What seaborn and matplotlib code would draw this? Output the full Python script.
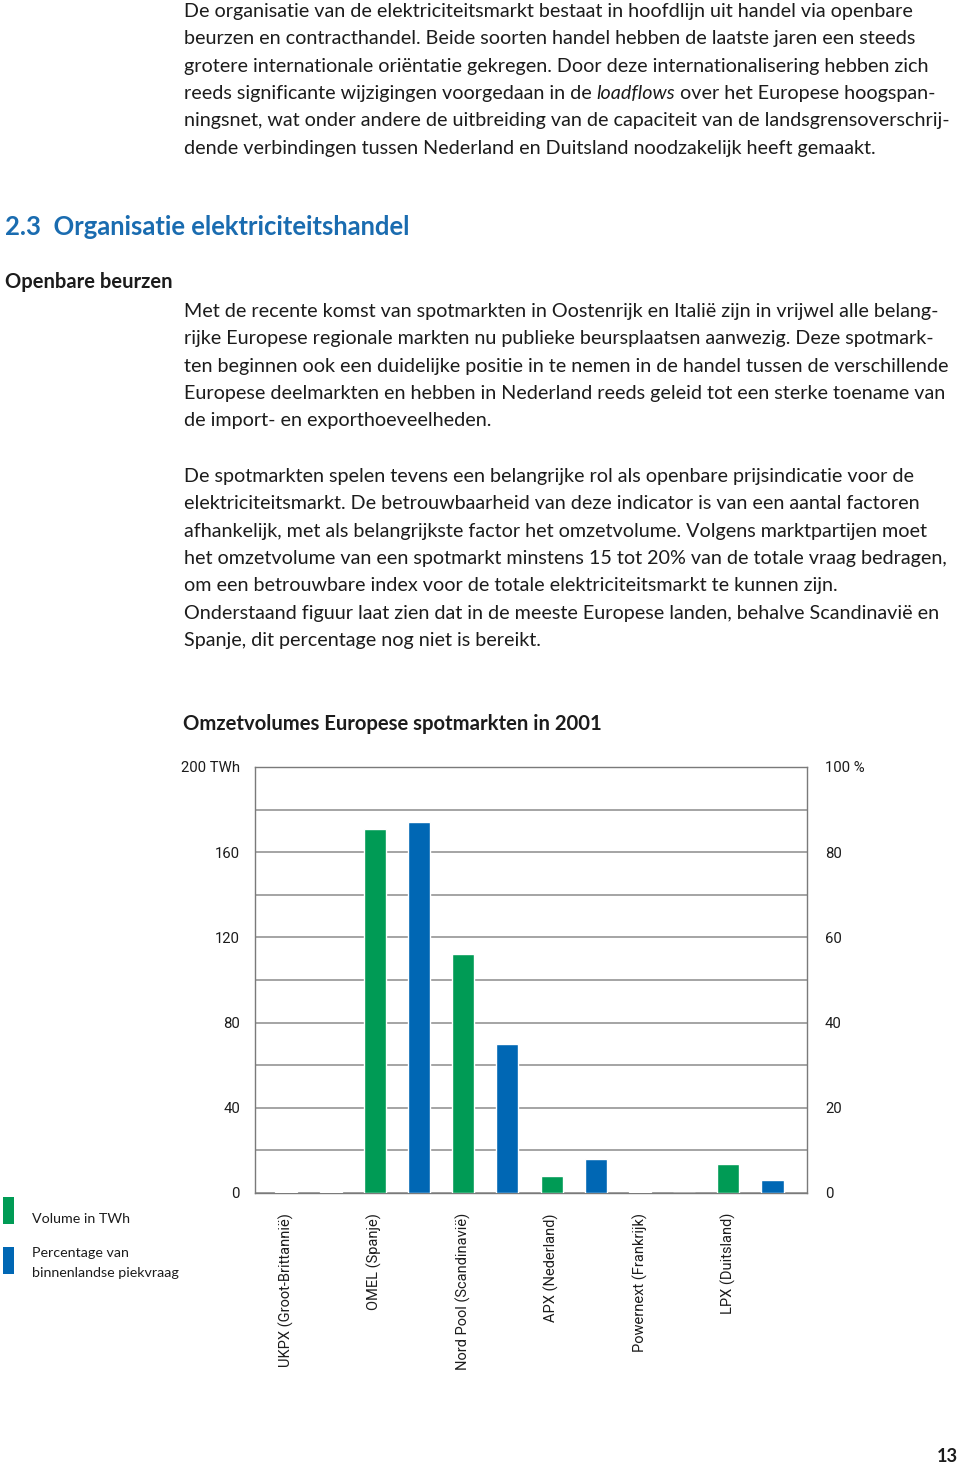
import matplotlib
matplotlib.use("Agg")
import matplotlib.pyplot as plt
from matplotlib.patches import Rectangle
import seaborn as sns
import pandas as pd

# ---------------- data ----------------
markets = ["UKPX (Groot-Brittannië)", "OMEL (Spanje)", "Nord Pool (Scandinavië)",
           "APX (Nederland)", "Powernext (Frankrijk)", "LPX (Duitsland)"]
volume_twh = [0.3, 171, 112, 8.1, 0.4, 13.8]
pct_peak = [0.15, 87, 35, 8.0, 0.1, 3.0]
series = ["Volume in TWh", "Percentage van\nbinnenlandse piekvraag"]
left_ticks = [0, 20, 40, 60, 80, 100, 120, 140, 160, 180, 200]
left_labels = ["0", "", "40", "", "80", "", "120", "", "160", "", "200 TWh"]
right_ticks = [0, 10, 20, 30, 40, 50, 60, 70, 80, 90, 100]
right_labels = ["0", "", "20", "", "40", "", "60", "", "80", "", "100 %"]

GREEN = "#009b55"
BLUE = "#0067b4"
HEAD_BLUE = "#1a6cb0"
TXT = "#1c1c1c"
GRID = "#8c8c8c"

sns.set_theme(style="white")
plt.rcParams["font.family"] = ["Lato", "DejaVu Sans"]

W, H = 960, 1466
fig = plt.figure(figsize=(W / 100, H / 100), dpi=100)
renderer = fig.canvas.get_renderer()


def width_px(s, size, **kw):
    t = fig.text(0, 0, s, fontsize=size, **kw)
    w = t.get_window_extent(renderer).width
    t.remove()
    return w


def fit(s, target, **kw):
    return 10 * target / width_px(s, 10, **kw)


def put(x, y, s, size, **kw):
    kw.setdefault("color", TXT)
    return fig.text(x / W, 1 - y / H, s, fontsize=size, va="baseline", ha="left", **kw)


# ---------------- body text ----------------
body = fit("De organisatie van de elektriciteitsmarkt bestaat in hoofdlijn uit handel via openbare", 733)
LS = 27.35

p1 = ["De organisatie van de elektriciteitsmarkt bestaat in hoofdlijn uit handel via openbare",
      "beurzen en contracthandel. Beide soorten handel hebben de laatste jaren een steeds",
      "grotere internationale oriëntatie gekregen. Door deze internationalisering hebben zich",
      None,
      "ningsnet, wat onder andere de uitbreiding van de capaciteit van de landsgrensoverschrij-",
      "dende verbindingen tussen Nederland en Duitsland noodzakelijk heeft gemaakt."]
for i, line in enumerate(p1):
    y = 17 + i * LS
    if line is not None:
        put(184, y, line, body)
    else:
        pre = "reeds significante wijzigingen voorgedaan in de"
        sp = width_px("a a", body) - width_px("aa", body)
        x = 184
        put(x, y, pre, body)
        x += width_px(pre, body) + sp
        put(x, y, "loadflows", body, style="italic")
        x += width_px("loadflows", body, style="italic") + sp
        put(x, y, "over het Europese hoogspan-", body)

head = fit("2.3  Organisatie elektriciteitshandel", 405, weight="bold")
put(5, 235, "2.3  Organisatie elektriciteitshandel", head, weight="bold", color=HEAD_BLUE)
sub = fit("Openbare beurzen", 168, weight="bold")
put(5, 288, "Openbare beurzen", sub, weight="bold")

p2 = ["Met de recente komst van spotmarkten in Oostenrijk en Italië zijn in vrijwel alle belang-",
      "rijke Europese regionale markten nu publieke beursplaatsen aanwezig. Deze spotmark-",
      "ten beginnen ook een duidelijke positie in te nemen in de handel tussen de verschillende",
      "Europese deelmarkten en hebben in Nederland reeds geleid tot een sterke toename van",
      "de import- en exporthoeveelheden."]
for i, line in enumerate(p2):
    put(184, 317 + i * LS, line, body)

p3 = ["De spotmarkten spelen tevens een belangrijke rol als openbare prijsindicatie voor de",
      "elektriciteitsmarkt. De betrouwbaarheid van deze indicator is van een aantal factoren",
      "afhankelijk, met als belangrijkste factor het omzetvolume. Volgens marktpartijen moet",
      "het omzetvolume van een spotmarkt minstens 15 tot 20% van de totale vraag bedragen,",
      "om een betrouwbare index voor de totale elektriciteitsmarkt te kunnen zijn.",
      "Onderstaand figuur laat zien dat in de meeste Europese landen, behalve Scandinavië en",
      "Spanje, dit percentage nog niet is bereikt."]
for i, line in enumerate(p3):
    put(184, 482 + i * LS, line, body)

title = "Omzetvolumes Europese spotmarkten in 2001"
put(183, 730, title, fit(title, 419, weight="bold"), weight="bold")

pg = fit("13", 21, weight="bold")
put(937, 1462, "13", pg, weight="bold")

# ---------------- chart ----------------
ax = fig.add_axes([255 / W, 1 - 1193 / H, 552 / W, 426 / H])
ax2 = ax.twinx()

df_vol = pd.DataFrame({"markt": markets, "reeks": series[0], "waarde": volume_twh})
df_pct = pd.DataFrame({"markt": markets, "reeks": series[1], "waarde": pct_peak})

sns.barplot(data=df_vol, x="markt", y="waarde", hue="reeks", order=markets,
            hue_order=series, palette=[GREEN, BLUE], width=1.0, gap=0.5, dodge=True,
            saturation=1, legend=False, ax=ax, zorder=3)
sns.barplot(data=df_pct, x="markt", y="waarde", hue="reeks", order=markets,
            hue_order=series, palette=[GREEN, BLUE], width=1.0, gap=0.5, dodge=True,
            saturation=1, legend=False, ax=ax2, zorder=3)

ax.set_ylim(0, 200)
ax2.set_ylim(0, 100)
ax.set_xlim(-0.605, 5.64)

tick_size = fit("200 TWh", 59, family="Roboto")
xtick_size = fit("UKPX (Groot-Brittannië)", 154, family="Roboto")

ax.set_yticks(left_ticks)
ax.set_yticklabels(left_labels, fontsize=tick_size, family="Roboto", color=TXT)
ax2.set_yticks(right_ticks)
ax2.set_yticklabels(right_labels, fontsize=tick_size, family="Roboto", color=TXT)
ax.tick_params(axis="y", length=0, pad=10.8)
ax2.tick_params(axis="y", length=0, pad=13)

ax.set_xticks([i - 0.25 for i in range(len(markets))])
ax.set_xticklabels(markets, rotation=90, va="top", ha="center",
                   fontsize=xtick_size, family="Roboto", color=TXT)
ax.tick_params(axis="x", length=0, pad=14.4)

ax.set_xlabel("")
ax.set_ylabel("")
ax2.set_ylabel("")
ax2.grid(False)
ax.yaxis.grid(True, color=GRID, linewidth=1.1)
ax.xaxis.grid(False)
ax.set_axisbelow(True)
for s in ax.spines.values():
    s.set_visible(True)
    s.set_color("#7a7a7a")
    s.set_linewidth(1.0)
for s in ax2.spines.values():
    s.set_visible(False)

# ---------------- legend ----------------
leg_size = fit("Volume in TWh", 98)
fig.add_artist(Rectangle((3 / W, 1 - 1224 / H), 11 / W, 27 / H,
                         transform=fig.transFigure, color=GREEN, lw=0))
fig.add_artist(Rectangle((3 / W, 1 - 1274 / H), 11 / W, 27 / H,
                         transform=fig.transFigure, color=BLUE, lw=0))
put(32, 1223, series[0], leg_size)
put(32, 1257, "Percentage van", leg_size)
put(32, 1277, "binnenlandse piekvraag", leg_size)

fig.savefig("out.png", dpi=100)
